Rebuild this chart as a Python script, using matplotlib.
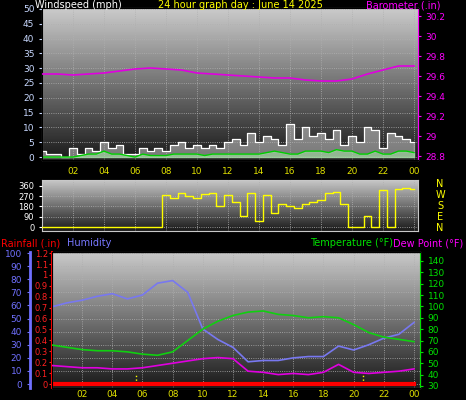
import numpy as np
import matplotlib
matplotlib.use("Agg")
import matplotlib.pyplot as plt

# half-hourly wind (mph)
gust = [2, 1, 1, 0, 3, 1, 3, 2, 5, 3, 4, 1, 1, 3, 2, 3, 2, 4, 5, 3, 4, 3, 4, 3, 5,
        6, 4, 8, 5, 7, 6, 4, 11, 6, 10, 7, 8, 6, 9, 4, 7, 5, 10, 9, 3, 8, 7, 6, 5]
wind_avg = [0, 0, 0, 0, 0, 0.5, 1, 1, 2, 1, 1, 0.5, 0, 1, 0.5, 0.5, 0.5, 1, 1, 1, 1, 0.5, 1, 1, 1,
            1, 1, 1, 1, 1.5, 2, 1.5, 1, 1, 2, 2, 2, 1.5, 2.5, 2, 2, 1, 1, 2, 1, 1, 2, 2, 1.5]
# hourly barometer (in)
baro = [29.62, 29.62, 29.61, 29.62, 29.63, 29.65, 29.67, 29.68, 29.67, 29.66, 29.63, 29.62, 29.61,
        29.60, 29.59, 29.58, 29.58, 29.56, 29.55, 29.55, 29.57, 29.62, 29.66, 29.70, 29.70]
# half-hourly wind direction (deg)
wdir = [0] * 16 + [280, 250, 300, 270, 250, 290, 300, 180, 280, 220, 100, 300, 50, 280, 120, 200,
                   180, 170, 200, 220, 240, 300, 310, 200, 0, 0, 100, 0, 320, 0, 330, 340, 330]
# hourly humidity (%), temperature and dew point (F)
humidity = [59, 62, 64, 67, 69, 65, 68, 77, 79, 70, 42, 34, 28, 17, 18, 18, 20, 21, 21, 29, 26, 30, 35, 38, 47]
temp = [66, 64, 62, 61, 61, 60, 58, 57, 60, 70, 80, 87, 92, 95, 96, 93, 92, 90, 91, 90, 84, 77, 73, 71, 69]
dew = [48, 47, 46, 46, 45, 45, 46, 48, 50, 52, 54, 55, 54, 43, 42, 40, 41, 40, 42, 49, 42, 41, 42, 43, 45]
rain = [0] * 25
hour_labels = ["02", "04", "06", "08", "10", "12", "14", "16", "18", "20", "22", "00"]

W, H = 466, 400
fig = plt.figure(figsize=(W / 100, H / 100), dpi=100, facecolor="black")
fs = 6.5


def box(l, t, r, b):
    return [l / W, 1 - b / H, (r - l) / W, (b - t) / H]


def backdrop(ax):
    grad = np.linspace(0, 1, 100).reshape(-1, 1)
    ax.imshow(grad, extent=[0, 1, 0, 1], transform=ax.transAxes, aspect="auto",
              cmap="gray", vmin=-0.15, vmax=1.3, origin="lower", zorder=0)
    ax.grid(True, color="#b0b0b0", linestyle=":", linewidth=0.6)
    ax.set_axisbelow(False)
    for s in ax.spines.values():
        s.set_color("#c8c8c8")


hrs_h = np.arange(len(baro))
hrs_hh = np.linspace(0, 24, len(gust))

# --- panel 1: wind / barometer
ax1 = fig.add_axes(box(42, 8, 418, 160))
backdrop(ax1)
ax1.fill_between(hrs_hh, 0, gust, color="#d8d8d8", alpha=0.5, step="mid", zorder=2)
ax1.plot(hrs_hh, gust, color="white", lw=0.8, drawstyle="steps-mid", zorder=3)
ax1.fill_between(hrs_hh, 0, wind_avg, color="#a0e0a0", alpha=0.6, zorder=3)
ax1.plot(hrs_hh, wind_avg, color="#00cc00", lw=1, zorder=4)
ax1.set_xlim(0, 24.26)
ax1.set_ylim(-1, 50.3)
ax1.set_yticks(range(0, 51, 5))
ax1.set_xticks(range(2, 25, 2))
ax1.set_xticklabels(hour_labels)
ax1.tick_params(axis="x", colors="#e0e000", labelsize=fs, length=0, pad=5)
ax1.tick_params(axis="y", colors="#c8d8ff", labelsize=fs, length=2)
b1 = ax1.twinx()
b1.plot(hrs_h, baro, color="#e000e0", lw=1.2, zorder=5)
b1.set_ylim(28.76, 30.28)
b1.set_yticks([28.8, 29, 29.2, 29.4, 29.6, 29.8, 30, 30.2])
b1.set_yticklabels(["28.8", "29", "29.2", "29.4", "29.6", "29.8", "30", "30.2"])
b1.tick_params(axis="y", colors="#ff00ff", labelsize=fs, length=2)
b1.spines["right"].set_color("#ff00ff")

fig.text(35 / W, 1 - 5 / H, "Windspeed (mph)", color="white", fontsize=7, va="center")
fig.text(240 / W, 1 - 5 / H, "24 hour graph day : June 14 2025", color="#ffff00", fontsize=7,
         va="center", ha="center")
fig.text(440 / W, 1 - 5 / H, "Barometer (.in)", color="#ff00ff", fontsize=7, va="center", ha="right")

# --- panel 2: wind direction
ax2 = fig.add_axes(box(42, 180, 418, 231))
backdrop(ax2)
ax2.plot(hrs_hh, wdir, color="#ffff00", lw=1, drawstyle="steps-mid", zorder=3)
ax2.set_xlim(0, 24.26)
ax2.set_ylim(-35, 412)
ax2.set_yticks([0, 90, 180, 270, 360])
ax2.set_xticks(range(2, 25, 2))
ax2.set_xticklabels([])
ax2.tick_params(axis="x", length=0)
ax2.tick_params(axis="y", colors="white", labelsize=fs - 0.5, length=2)
for i, c in enumerate("NWSEN"):
    fig.text(440 / W, 1 - (184 + i * 11) / H, c, color="#ffff00", fontsize=7, ha="center", va="center")

# --- panel 3: humidity / rain / temperature / dew point
ax3 = fig.add_axes(box(52, 252, 420, 388))
backdrop(ax3)
ax3.plot(hrs_h, humidity, color="#7878f0", lw=1.2, zorder=4)
ax3.set_xlim(0, 24.4)
ax3.set_ylim(-3, 100.8)
ax3.set_xticks(range(2, 25, 2))
ax3.set_xticklabels(hour_labels)
ax3.tick_params(axis="x", colors="#e0e000", labelsize=fs, length=0, pad=1.5)
ax3.yaxis.set_ticks_position("none")
ax3.set_yticks(range(0, 101, 10))
ax3.set_yticklabels([])

hum = ax3.twinx()
hum.set_ylim(-3, 100.8)
hum.spines["left"].set_visible(True)
hum.spines["left"].set_position(("outward", 16))
hum.spines["left"].set_color("#7070ff")
hum.spines["left"].set_linewidth(2)
hum.spines["right"].set_visible(False)
hum.yaxis.set_ticks_position("left")
hum.yaxis.set_label_position("left")
hum.set_yticks(range(0, 101, 10))
hum.tick_params(axis="y", colors="#7070ff", labelsize=fs, length=2)

rn = ax3.twinx()
rn.plot(hrs_h, rain, color="#ff0000", lw=3, zorder=6)
rn.vlines([5.6, 20.6], 0, 0.1, color="#ffff00", linestyles=":", lw=1)
rn.set_ylim(-0.036, 1.21)
rn.spines["left"].set_visible(True)
rn.spines["left"].set_color("#ff0000")
rn.spines["left"].set_linewidth(1.5)
rn.spines["right"].set_visible(False)
rn.yaxis.set_ticks_position("left")
rn.set_yticks([0, 0.1, 0.2, 0.3, 0.4, 0.5, 0.6, 0.7, 0.8, 0.9, 1, 1.1, 1.2])
rn.set_yticklabels(["0", "0.1", "0.2", "0.3", "0.4", "0.5", "0.6", "0.7", "0.8", "0.9", "1", "1.1", "1.2"])
rn.tick_params(axis="y", colors="#ff2020", labelsize=fs - 0.5, length=2, pad=1)

tp = ax3.twinx()
tp.plot(hrs_h, temp, color="#10d010", lw=1.2, zorder=5)
tp.plot(hrs_h, dew, color="#e000e0", lw=1.2, zorder=5)
tp.set_ylim(28.2, 147.9)
tp.set_yticks(range(30, 141, 10))
tp.spines["right"].set_color("#00e000")
tp.tick_params(axis="y", colors="#00e000", labelsize=fs, length=2)

fig.text(1 / W, 1 - 243 / H, "Rainfall (.in)", color="#ff0000", fontsize=7, va="center")
fig.text(67 / W, 1 - 243 / H, "Humidity", color="#7878ff", fontsize=7, va="center")
fig.text(393 / W, 1 - 243 / H, "Temperature (°F)", color="#00e000", fontsize=7, va="center", ha="right")
fig.text(463 / W, 1 - 243 / H, "Dew Point (°F)", color="#ff00ff", fontsize=7, va="center", ha="right")

fig.savefig("out.png", dpi=100, facecolor="black")
